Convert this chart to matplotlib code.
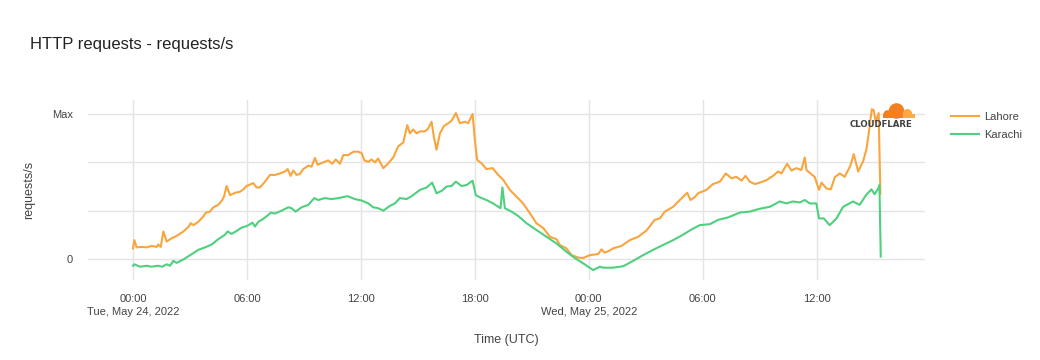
import matplotlib
matplotlib.use("Agg")
import matplotlib.pyplot as plt
from matplotlib.patches import Circle, Rectangle

plt.rcParams['font.family'] = ['Liberation Sans', 'DejaVu Sans']

# ---- data (hours since Tue, May 24, 2022 00:00 UTC; values relative, Max = 3) ----
lahore_hours = [0.0, 0.07, 0.19, 0.46, 0.72, 0.98, 1.25, 1.33, 1.46, 1.6, 1.77, 2.04, 2.21, 2.39,
                2.65, 2.91, 3.04, 3.18, 3.44, 3.7, 3.84, 4.05, 4.23, 4.49, 4.7, 4.79, 4.93, 5.11,
                5.37, 5.63, 5.81, 5.98, 6.33, 6.51, 6.68, 6.95, 7.21, 7.47, 7.74, 8.0, 8.14, 8.3,
                8.44, 8.61, 8.79, 8.96, 9.23, 9.4, 9.58, 9.72, 10.02, 10.28, 10.49, 10.67, 10.9,
                11.07, 11.33, 11.6, 11.86, 12.04, 12.18, 12.39, 12.56, 12.74, 12.91, 13.18, 13.44,
                13.7, 13.96, 14.23, 14.44, 14.58, 14.75, 14.93, 15.11, 15.37, 15.54, 15.72, 15.84,
                15.98, 16.16, 16.37, 16.6, 16.77, 17.0, 17.21, 17.47, 17.65, 17.88, 18.0, 18.12,
                18.35, 18.61, 18.93, 19.23, 19.49, 19.84, 20.19, 20.54, 20.89, 21.24, 21.6, 21.95,
                22.3, 22.47, 22.82, 23.09, 23.44, 23.7, 24.05, 24.49, 24.67, 24.84, 25.07, 25.28,
                25.72, 26.16, 26.6, 27.04, 27.47, 27.74, 28.0, 28.44, 28.79, 29.18, 29.35, 29.58,
                29.75, 30.19, 30.54, 30.9, 31.21, 31.51, 31.77, 32.04, 32.25, 32.47, 32.74, 33.0,
                33.35, 33.7, 33.96, 34.14, 34.44, 34.67, 34.93, 35.19, 35.37, 35.46, 35.67, 35.89,
                36.12, 36.25, 36.51, 36.74, 36.95, 37.21, 37.47, 37.77, 37.95, 38.18, 38.44, 38.61,
                38.72, 38.82, 38.9, 39.0, 39.1, 39.26, 39.35]
lahore_values = [0.22, 0.39, 0.24, 0.25, 0.24, 0.27, 0.25, 0.30, 0.25, 0.57, 0.36, 0.43, 0.46, 0.50,
                 0.57, 0.66, 0.74, 0.70, 0.77, 0.88, 0.96, 0.98, 1.07, 1.12, 1.22, 1.29, 1.51, 1.32,
                 1.37, 1.39, 1.44, 1.51, 1.57, 1.48, 1.48, 1.60, 1.74, 1.74, 1.77, 1.81, 1.86, 1.72,
                 1.83, 1.74, 1.76, 1.86, 1.93, 1.91, 2.09, 1.95, 2.00, 2.04, 1.97, 2.06, 1.97,
                 2.15, 2.15, 2.22, 2.22, 2.19, 2.04, 2.01, 2.06, 2.00, 2.08, 1.88, 1.98,
                 2.10, 2.33, 2.41, 2.77, 2.60, 2.68, 2.60, 2.64, 2.64, 2.70, 2.84, 2.53,
                 2.26, 2.60, 2.75, 2.81, 2.86, 3.02, 2.81, 2.84, 2.81, 3.00, 2.46, 2.05,
                 1.98, 1.86, 1.88, 1.74, 1.64, 1.43, 1.29, 1.15, 0.95, 0.74, 0.64, 0.46,
                 0.41, 0.29, 0.22, 0.08, 0.03, 0.02, 0.08, 0.10, 0.20, 0.13, 0.17, 0.22,
                 0.27, 0.39, 0.46, 0.59, 0.81, 0.84, 0.98, 1.08, 1.22, 1.37, 1.22, 1.28,
                 1.36, 1.43, 1.55, 1.60, 1.77, 1.67, 1.70, 1.62, 1.72, 1.60, 1.55, 1.58,
                 1.63, 1.72, 1.81, 1.77, 1.97, 1.83, 1.88, 1.84, 2.10, 1.84, 1.77, 1.70,
                 1.43, 1.58, 1.46, 1.44, 1.69, 1.77, 1.70, 1.93, 2.17, 1.81, 2.02, 2.26,
                 2.55, 2.85, 3.10, 3.08, 2.84, 3.02, 1.35]

karachi_hours = [0.0, 0.07, 0.37, 0.72, 0.98, 1.33, 1.54, 1.77, 1.95, 2.12, 2.3, 2.65, 3.09, 3.44,
                 3.79, 4.14, 4.49, 4.84, 4.98, 5.19, 5.46, 5.72, 5.98, 6.3, 6.42, 6.6, 6.86, 7.12,
                 7.25, 7.47, 7.82, 8.18, 8.35, 8.56, 8.88, 9.23, 9.54, 9.75, 10.1, 10.46, 10.81,
                 11.3, 11.68, 12.04, 12.39, 12.65, 12.91, 13.18, 13.53, 13.79, 14.05, 14.4, 14.67,
                 15.11, 15.46, 15.75, 15.98, 16.25, 16.51, 16.77, 17.0, 17.3, 17.56, 17.88, 18.05,
                 18.35, 18.61, 18.96, 19.35, 19.45, 19.58, 19.93, 20.28, 20.72, 21.24, 21.77, 22.3,
                 22.82, 23.26, 23.7, 24.23, 24.58, 24.75, 25.28, 25.81, 26.33, 26.86, 27.39, 27.91,
                 28.44, 28.95, 29.4, 29.84, 30.37, 30.81, 31.33, 31.95, 32.47, 33.0, 33.53, 34.05,
                 34.4, 34.75, 35.11, 35.37, 35.63, 35.98, 36.12, 36.37, 36.68, 37.04, 37.39, 37.91,
                 38.26, 38.61, 38.88, 39.05, 39.25, 39.3, 39.37]
karachi_values = [-0.14, -0.11, -0.16, -0.14, -0.16, -0.14, -0.16, -0.11, -0.14, -0.04, -0.08, -0.01,
                  0.10, 0.19, 0.24, 0.30, 0.41, 0.50, 0.57, 0.52, 0.58, 0.65, 0.68, 0.75, 0.67, 0.77,
                  0.83, 0.91, 0.96, 0.94, 1.00, 1.07, 1.05, 0.98, 1.07, 1.12, 1.26, 1.22, 1.26, 1.24,
                  1.26, 1.30, 1.24, 1.21, 1.15, 1.07, 1.05, 1.00, 1.10, 1.15, 1.26, 1.24, 1.30,
                  1.43, 1.48, 1.58, 1.36, 1.41, 1.50, 1.51, 1.60, 1.51, 1.53, 1.62, 1.32,
                  1.26, 1.22, 1.15, 1.05, 1.48, 1.05, 0.98, 0.89, 0.74, 0.60, 0.46, 0.32,
                  0.15, 0.02, -0.09, -0.23, -0.16, -0.18, -0.18, -0.15, -0.04, 0.08, 0.19, 0.29,
                  0.39, 0.50, 0.61, 0.70, 0.72, 0.81, 0.86, 0.96, 0.98, 1.04, 1.08, 1.19,
                  1.15, 1.19, 1.17, 1.22, 1.15, 1.15, 0.84, 0.84, 0.70, 0.84, 1.08, 1.19,
                  1.12, 1.33, 1.44, 1.34, 1.47, 1.53, 0.05]

series_names = ["Lahore", "Karachi"]
x_tick_hours = [0, 6, 12, 18, 24, 30, 36]
x_tick_labels = ["00:00\nTue, May 24, 2022", "06:00", "12:00", "18:00",
                 "00:00\nWed, May 25, 2022", "06:00", "12:00"]
y_tick_values = [0, 1, 2, 3]
y_tick_labels = ["0", "", "", "Max"]

# ---- figure ----
W, H = 1040, 360
fig = plt.figure(figsize=(W / 100, H / 100), dpi=100)
fig.patch.set_facecolor("white")

def fx(px):
    return px / W

def fy(py):
    return 1 - py / H

ax_l, ax_r, ax_t, ax_b = 88, 925, 100, 280
ax = fig.add_axes([fx(ax_l), fy(ax_b), fx(ax_r - ax_l), (ax_b - ax_t) / H])

orange = "#F9A53E"
green = "#4FD07E"
ax.plot(lahore_hours, lahore_values, color=orange, lw=1.5, label=series_names[0], zorder=3)
ax.plot(karachi_hours, karachi_values, color=green, lw=1.5, label=series_names[1], zorder=3)

ax.set_xlim(-2.37, 41.7)
ax.set_ylim(-0.435, 3.29)
ax.set_xticks(x_tick_hours)
ax.set_xticklabels(x_tick_labels, fontsize=8, color="#444444", linespacing=1.45)
ax.set_yticks(y_tick_values)
ax.set_yticklabels(y_tick_labels, fontsize=8, color="#444444")
ax.tick_params(axis="both", length=0)
ax.tick_params(axis="x", pad=10)
ax.tick_params(axis="y", pad=11)
ax.grid(True, color="#e4e4e4", lw=1.0, zorder=0)
for s in ax.spines.values():
    s.set_visible(False)

ax.set_xlabel("Time (UTC)", fontsize=9, color="#444444", labelpad=12)
ax.set_ylabel("requests/s", fontsize=9, color="#444444", labelpad=12)

fig.text(fx(30), fy(45), "HTTP requests - requests/s", fontsize=12, color="#222222",
         ha="left", va="center")

fig.legend(loc="upper left", bbox_to_anchor=(fx(941), fy(102)), frameon=False,
           fontsize=8, handlelength=2.5, handletextpad=0.45, labelspacing=0.75,
           labelcolor="#444444")

# ---- Cloudflare logo ----
lx0, lx1, ly0, ly1 = 840, 922, 98, 132
lax = fig.add_axes([fx(lx0), fy(ly1), fx(lx1 - lx0), (ly1 - ly0) / H])
lax.set_xlim(lx0, lx1)
lax.set_ylim(ly1, ly0)
lax.axis("off")
lax.patch.set_alpha(0)
lax.add_patch(Circle((896.5, 111.0), 7.8, color="#F38020", lw=0))
lax.add_patch(Circle((887.5, 114.2), 4.0, color="#F38020", lw=0))
lax.add_patch(Rectangle((883.0, 113.5), 22, 4.6, color="#F38020", lw=0))
lax.add_patch(Circle((907.5, 113.6), 4.6, color="#FBAD41", lw=0))
lax.add_patch(Rectangle((903.0, 113.6), 11.8, 4.5, color="#FBAD41", lw=0))
lax.text(881, 124.5, "CLOUDFLARE", fontsize=6.2, fontweight="bold", color="#404041",
         ha="center", va="center", family="DejaVu Sans")

fig.savefig("out.png", dpi=100, facecolor="white")
